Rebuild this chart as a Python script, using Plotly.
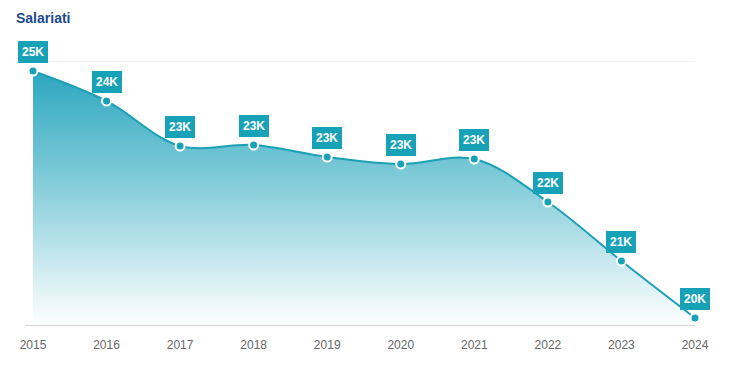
import plotly.graph_objects as go

years = [2015, 2016, 2017, 2018, 2019, 2020, 2021, 2022, 2023, 2024]
salariati = [24940, 24340, 23440, 23460, 23220, 23080, 23180, 22320, 21140, 20000]
labels = ["25K", "24K", "23K", "23K", "23K", "23K", "23K", "22K", "21K", "20K"]

TEAL = "#17a2b8"
Y0, Y1 = 19860, 25140
W, H = 726, 374

fig = go.Figure()
fig.add_trace(go.Scatter(
    x=years, y=salariati,
    mode="lines+markers",
    line=dict(color="#1ba0b6", width=2, shape="spline", smoothing=1),
    marker=dict(size=9, color=TEAL, line=dict(color="white", width=2)),
    fill="tozeroy",
    fillgradient=dict(type="vertical", start=Y0, stop=Y1,
                      colorscale=[[0, "rgba(255,255,255,1)"], [0.5, "rgb(140,208,220)"], [1, "rgb(36,163,189)"]]),
    hoverinfo="skip",
    cliponaxis=False,
))

for x, y, t in zip(years, salariati, labels):
    fig.add_annotation(x=x, y=y, text="<b>%s</b>" % t, showarrow=False,
                       yshift=19, bgcolor=TEAL, bordercolor=TEAL, borderpad=3,
                       font=dict(color="white", size=12, family="Liberation Sans, Arial"))

fig.add_shape(type="line", xref="paper", yref="y", x0=(31 - 23) / 672, x1=1, y0=Y1, y1=Y1,
              line=dict(color="#e3e3e3", width=1), layer="below")

fig.update_layout(
    width=W, height=H,
    margin=dict(l=15, r=39, t=53, b=57),
    paper_bgcolor="white", plot_bgcolor="white",
    showlegend=False,
    title=dict(text="<b>Salariati</b>", x=8 / W, xanchor="left", y=1 - 10 / H, yanchor="middle",
               font=dict(size=14, color="#1a4a8c", family="Liberation Sans, Arial")),
    xaxis=dict(range=[2015 - 8 / 73.78, 2024], tickvals=years, ticktext=[str(y) for y in years],
               showgrid=False, zeroline=False, showline=True, linecolor="#d6d6d6", linewidth=1,
               ticks="outside", ticklen=9, tickcolor="rgba(0,0,0,0)",
               tickfont=dict(size=12, color="#666666", family="Liberation Sans, Arial")),
    yaxis=dict(range=[Y0, Y1], showgrid=False, zeroline=False, showticklabels=False, showline=False),
)

fig.write_html("out.html")
